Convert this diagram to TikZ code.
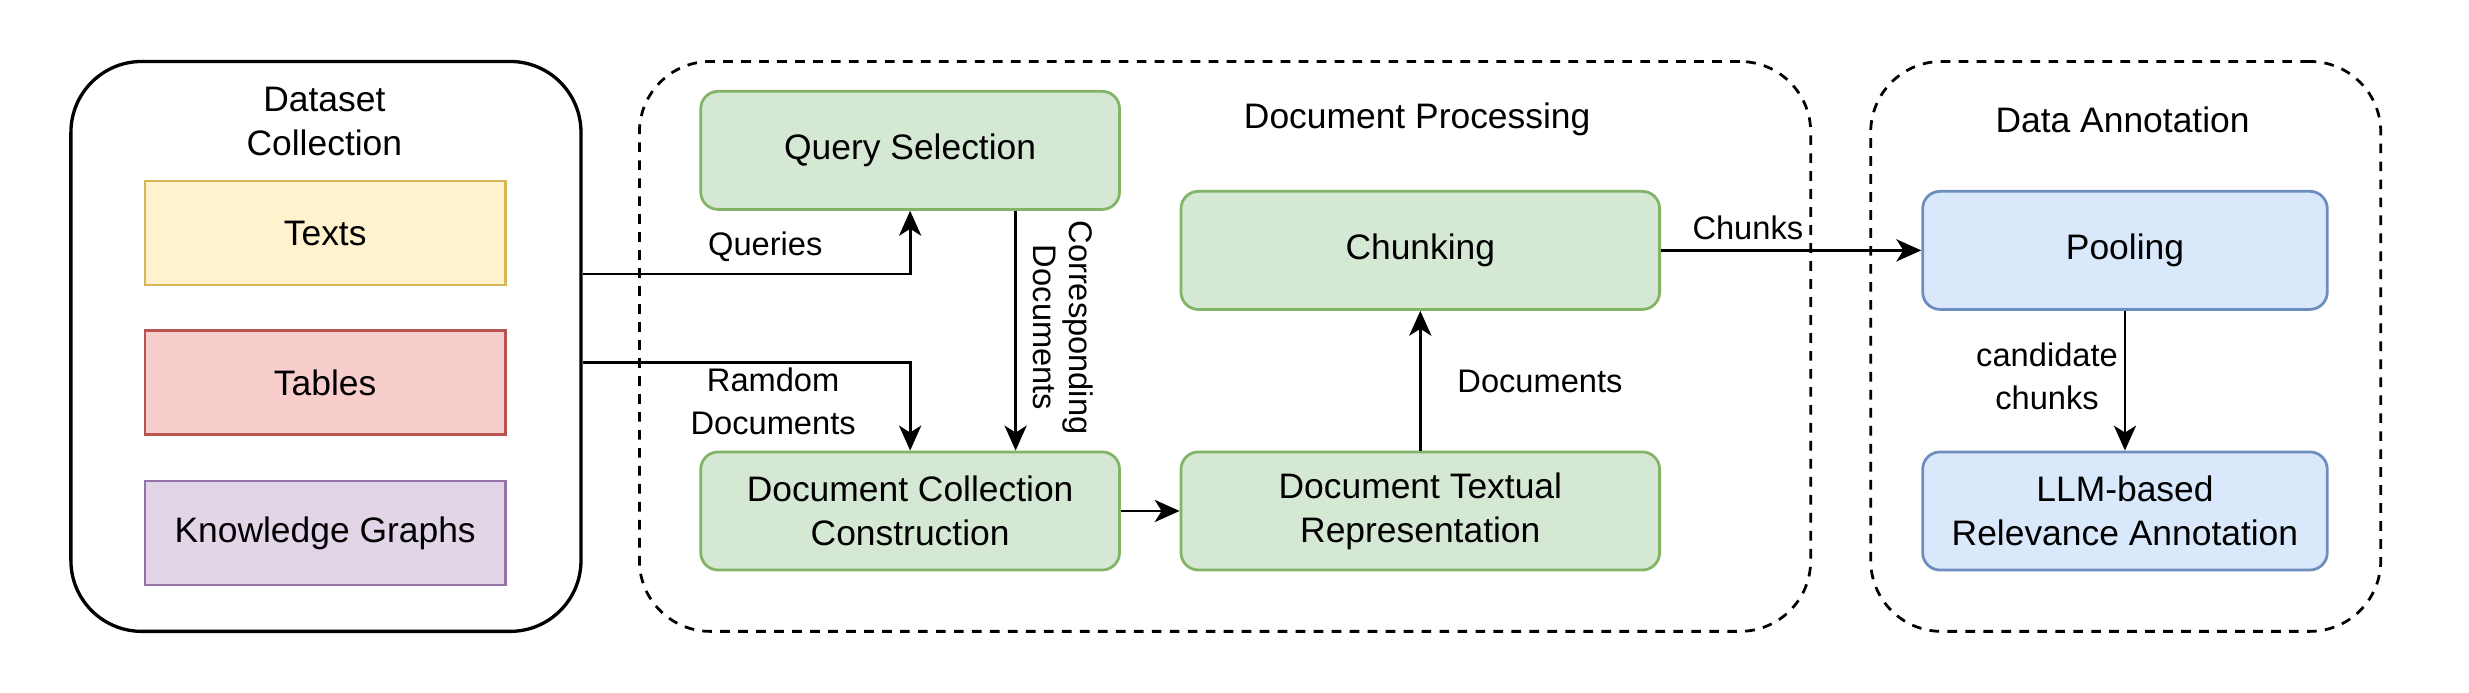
\documentclass[tikz,border=0pt]{standalone}
\usepackage{fontspec}
\setmainfont{Liberation Sans}
\usetikzlibrary{arrows.meta,positioning}

\definecolor{yfill}{HTML}{FFF2CC}\definecolor{ydraw}{HTML}{D6B656}
\definecolor{rfill}{HTML}{F8CECC}\definecolor{rdraw}{HTML}{B85450}
\definecolor{pfill}{HTML}{E1D5E7}\definecolor{pdraw}{HTML}{9673A6}
\definecolor{gfill}{HTML}{D5E8D4}\definecolor{gdraw}{HTML}{82B366}
\definecolor{bfill}{HTML}{DAE8FC}\definecolor{bdraw}{HTML}{6C8EBF}

\tikzset{%
  % Specifications for style of nodes:
         group/.style = {rectangle, rounded corners=0.9cm, draw=black, line width=1.2pt, minimum width=6.48cm, minimum height=7.24cm},
    dashgroup/.style = {group, line width=1pt, dash pattern=on 3.5pt off 3pt},
         item/.style = {rectangle, line width=1pt, minimum width=4.58cm, minimum height=1.32cm},
         proc/.style = {rectangle, rounded corners=0.22cm, draw=gdraw, fill=gfill, line width=1pt, minimum height=1.5cm, align=center},
         anno/.style = {rectangle, rounded corners=0.22cm, draw=bdraw, fill=bfill, line width=1pt, minimum width=5.14cm, minimum height=1.5cm, align=center},
        arrow/.style = {-{Stealth[length=9pt, width=8pt, inset=2.5pt]}, line width=1.05pt},
        label/.style = {font=\fontsize{11.8}{15.5}\selectfont},
}

\begin{document}
\begin{tikzpicture}[x=0.02cm, y=-0.02cm, every node/.style={font=\fontsize{12.8}{16}\selectfont}, align=center]
    \useasboundingbox (0,0) rectangle (1568,440);

    % Draw groups
    \node (dataset)     [group]                      at (207,220)   {};
    \node (docproc)     [dashgroup, minimum width=14.88cm] at (778,220) {};
    \node (dataanno)    [dashgroup]                  at (1350,220)  {};
    \node (datasettitle)                             at (206,77)    {Dataset\\Collection};
    \node (docproctitle)                             at (900,76)    {Document Processing};
    \node (dataannotitle)                            at (1348,76)   {Data Annotation};

    % Draw nodes
    \node (texts)       [item, draw=ydraw, fill=yfill] at (206.5,148)   {Texts};
    \node (tables)      [item, draw=rdraw, fill=rfill] at (206.5,243)   {Tables};
    \node (graphs)      [item, draw=pdraw, fill=pfill] at (206.5,338.5) {Knowledge Graphs};

    \node (query)       [proc, minimum width=5.32cm] at (578,95.5)   {Query Selection};
    \node (collect)     [proc, minimum width=5.32cm] at (578,324.5)  {Document Collection\\Construction};
    \node (textual)     [proc, minimum width=6.08cm] at (902,324.5)  {Document Textual\\Representation};
    \node (chunking)    [proc, minimum width=6.08cm] at (902,159)    {Chunking};

    \node (pooling)     [anno]                       at (1349.5,159)   {Pooling};
    \node (llm)         [anno]                       at (1349.5,324.5) {LLM-based\\Relevance Annotation};

    % Draw arrows
    \draw[arrow]    ([yshift=0.92cm]dataset.east) -| (query.south);
    \draw[arrow]    ([yshift=-0.2cm]dataset.east) -| (collect.north);
    \draw[arrow]    ([xshift=1.34cm]query.south) -- ([xshift=1.34cm]collect.north);
    \draw[arrow]    (collect.east) -- (textual.west);
    \draw[arrow]    (textual.north) -- (chunking.south);
    \draw[arrow]    (chunking.east) -- (pooling.west);
    \draw[arrow]    (pooling.south) -- (llm.north);

    % Draw labels
    \node (lblqueries)  [label] at (486,157)  {Queries};
    \node (lblrandom)   [label] at (491,255)  {Ramdom\\Documents};
    \node (lblcorresp)  [label, rotate=-90, font=\fontsize{11.8}{13}\selectfont] at (675,208) {Corresponding\\Documents};
    \node (lbldocs)     [label] at (978,242)  {Documents};
    \node (lblchunks)   [label] at (1110,145) {Chunks};
    \node (lblcand)     [label] at (1300,239) {candidate\\chunks};

\end{tikzpicture}
\end{document}
